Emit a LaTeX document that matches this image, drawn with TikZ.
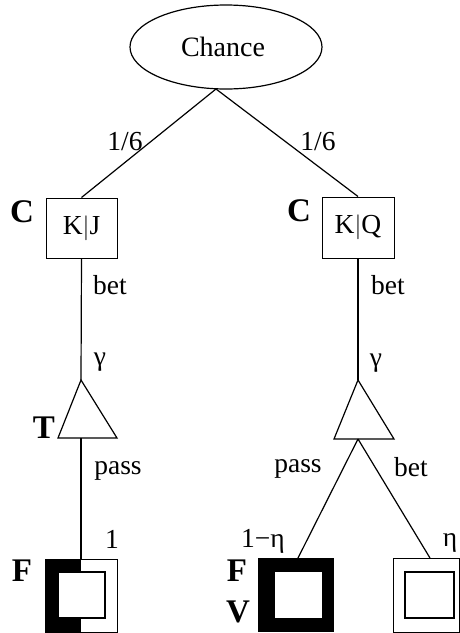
\documentclass[tikz,border=0pt]{standalone}
\usepackage{fontspec}
\setmainfont{Liberation Serif}
\usetikzlibrary{shapes.geometric}
\begin{document}
\begin{tikzpicture}[x=1pt,y=-1pt,
  edge/.style={line width=1.2pt},
  lbl/.style={inner sep=0pt,font=\fontsize{27.5}{30}\selectfont},
  plab/.style={inner sep=0pt,font=\fontsize{33}{35}\selectfont\bfseries},
  infobox/.style={draw,line width=1pt,rectangle,inner sep=0pt,minimum width=71pt,minimum height=60pt,font=\fontsize{27.5}{30}\selectfont},
  thin/.style={line width=1pt},
  inner/.style={line width=1.4pt}]
\useasboundingbox (0,0) rectangle (460,633);
% chance node
\node[draw,ellipse,line width=1.2pt,minimum width=192pt,minimum height=84pt,inner sep=0pt,
  font=\fontsize{28}{30}\selectfont] (chance) at (226,47) {Chance\hspace*{6pt}};
\coordinate (cb) at (216,89);
% info sets
\node[infobox] (kj) at (81.5,228) {K$\vert$J};
\node[infobox,minimum width=72pt,minimum height=61pt] (kq) at (358,227.5) {K$\vert$Q};
\draw[edge] (cb) -- (kj.north);
\draw[edge] (cb) -- (kq.north);
\node[lbl] (p1) at (125,142) {1/6};
\node[lbl] (p2) at (318,142) {1/6};
\node[plab] (c1) at (22,212) {C};
\node[plab] (c2) at (299,211) {C};
% triangles
\coordinate (t1a) at (81,380);
\coordinate (t1l) at (58,438);
\coordinate (t1r) at (117,438);
\coordinate (t1b) at (81,438);
\coordinate (t2a) at (358,380);
\coordinate (t2l) at (334,439);
\coordinate (t2r) at (394,439);
\coordinate (t2b) at (358,439);
\draw[edge,line join=miter] (t1a) -- (t1l) -- (t1r) -- cycle;
\draw[edge,line join=miter] (t2a) -- (t2l) -- (t2r) -- cycle;
\draw[edge] (kj.south) -- (t1a);
\draw[edge] (kq.south) -- (t2a);
\node[lbl] (b1) at (110,285) {bet};
\node[lbl] (b2) at (388,285) {bet};
\node[lbl] (g1) at (100,362) {γ};
\node[lbl] (g2) at (376,363) {γ};
\node[plab] (tl) at (44,428) {T};
% bottom-left leaf
\coordinate (l1) at (81,559);
\fill (45,559) rectangle (81,632);
\draw[thin] (45,559) rectangle (117,632);
\filldraw[fill=white,inner] (58,572) rectangle (105,618);
\draw[edge] (t1b) -- (l1);
\node[lbl] (pa1) at (118,471) {pass};
\node[lbl] (one) at (112,539) {1};
\node[plab] (f1) at (22,571) {F};
% bottom-middle leaf
\coordinate (l2) at (298,558);
\fill (258,558) rectangle (334,632);
\fill[white] (275,572) rectangle (322,618);
% bottom-right leaf
\coordinate (l3) at (430,558);
\draw[thin] (393,558) rectangle (459,632);
\draw[inner] (405,572) rectangle (454,618);
\draw[edge] (t2b) -- (l2);
\draw[edge] (t2b) -- (l3);
\node[lbl] (pa2) at (298,469) {pass};
\node[lbl] (b3) at (411,467) {bet};
\node[lbl] (oe) at (263,541) {1−η};
\node[lbl] (et) at (450,543) {η};
\node[plab] (f2) at (237,571) {F};
\node[plab] (v2) at (238,612) {V};
\end{tikzpicture}
\end{document}
